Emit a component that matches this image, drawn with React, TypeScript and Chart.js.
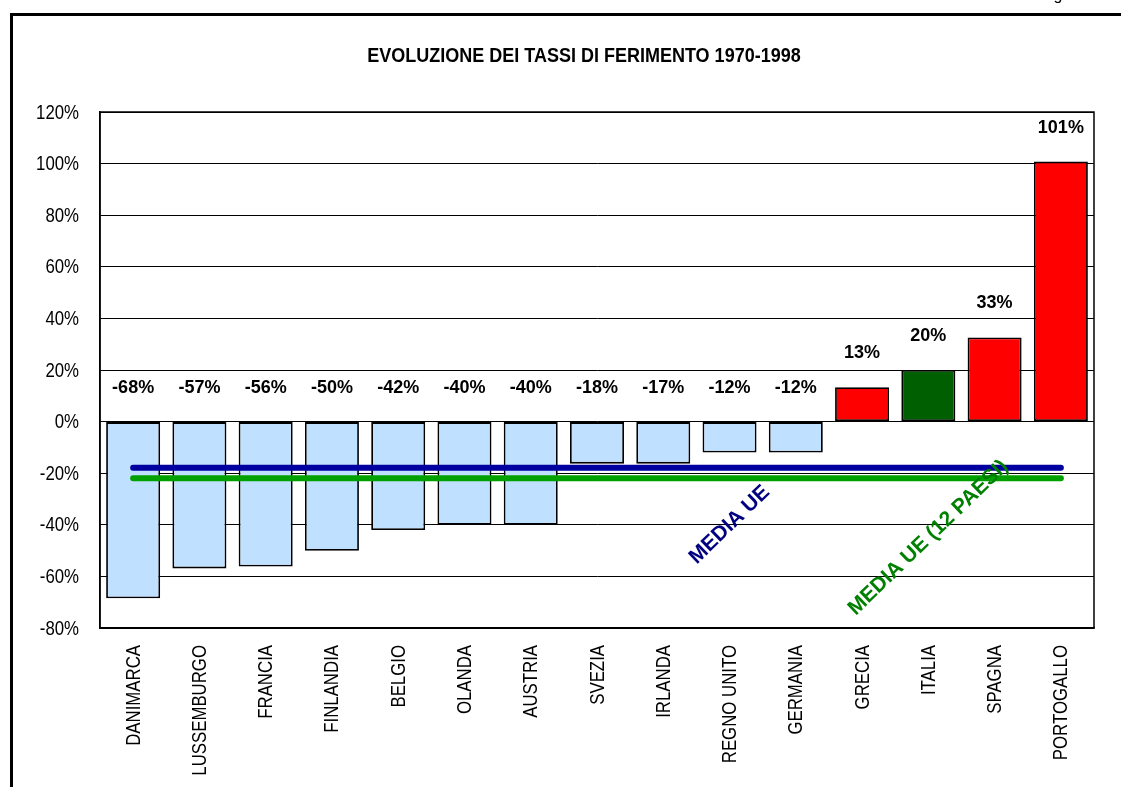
import React, { useEffect, useRef } from "react";
import { Chart, registerables } from "chart.js";

Chart.register(...registerables);

const TITLE = "EVOLUZIONE DEI TASSI DI FERIMENTO 1970-1998";
const categories = [
  "DANIMARCA", "LUSSEMBURGO", "FRANCIA", "FINLANDIA", "BELGIO", "OLANDA", "AUSTRIA",
  "SVEZIA", "IRLANDA", "REGNO UNITO", "GERMANIA", "GRECIA", "ITALIA", "SPAGNA", "PORTOGALLO",
];
const values = [-68.5, -56.9, -56.2, -50.1, -42, -40, -40, -16.3, -16.3, -12, -12, 13.3, 20, 32.6, 100.8];
const valueLabels = ["-68%", "-57%", "-56%", "-50%", "-42%", "-40%", "-40%", "-18%", "-17%", "-12%", "-12%", "13%", "20%", "33%", "101%"];
const barColors = [
  "#C0E0FF", "#C0E0FF", "#C0E0FF", "#C0E0FF", "#C0E0FF", "#C0E0FF", "#C0E0FF",
  "#C0E0FF", "#C0E0FF", "#C0E0FF", "#C0E0FF", "#FF0000", "#005F00", "#FF0000", "#FF0000",
];
const MEDIA_UE = -17.9;
const MEDIA_UE_12 = -22.0;
const yTicks = { min: -80, max: 120, step: 20 };

const SANS = "'Liberation Sans', Arial, sans-serif";
const NARROW_SCALE = 0.84;

const decor = {
  id: "decor",
  beforeDraw(chart: any) {
    const ctx = chart.ctx;
    ctx.save();
    ctx.fillStyle = "#ffffff";
    ctx.fillRect(0, 0, chart.width, chart.height);
    ctx.fillStyle = "#000000";
    ctx.fillRect(10, 13, chart.width, 3);
    ctx.fillRect(10, 13, 3, chart.height);
    ctx.font = `16px ${SANS}`;
    ctx.textAlign = "center";
    ctx.textBaseline = "alphabetic";
    ctx.fillText("g", 1058, 0);
    ctx.save();
    ctx.translate(584, 62);
    ctx.scale(0.857, 1);
    ctx.font = `bold 21px ${SANS}`;
    ctx.fillText(TITLE, 0, 0);
    ctx.restore();
    ctx.restore();
  },
  afterDatasetsDraw(chart: any) {
    const ctx = chart.ctx;
    const xs = chart.scales.x;
    const ys = chart.scales.y;
    const a = chart.chartArea;
    ctx.save();
    ctx.strokeStyle = "#000";
    ctx.lineWidth = 1.5;
    ctx.strokeRect(a.left, a.top, a.right - a.left, a.bottom - a.top);
    ctx.fillStyle = "#000";

    // y tick labels (narrow)
    ys.ticks.forEach((t: any) => {
      const y = ys.getPixelForValue(t.value);
      ctx.save();
      ctx.translate(a.left - 21, y + 1);
      ctx.scale(NARROW_SCALE, 1);
      ctx.font = `20px ${SANS}`;
      ctx.textAlign = "right";
      ctx.textBaseline = "middle";
      ctx.fillText(`${t.value}%`, 0, 0);
      ctx.restore();
    });

    // x tick labels (vertical, narrow)
    categories.forEach((c, i) => {
      const x = xs.getPixelForValue(i);
      ctx.save();
      ctx.translate(x + 1, a.bottom + 17);
      ctx.rotate(-Math.PI / 2);
      ctx.scale(NARROW_SCALE, 1);
      ctx.font = `20px ${SANS}`;
      ctx.textAlign = "right";
      ctx.textBaseline = "middle";
      ctx.fillText(c, 0, 0);
      ctx.restore();
    });

    ctx.font = `bold 18px ${SANS}`;
    ctx.textAlign = "center";
    ctx.textBaseline = "alphabetic";
    values.forEach((v, i) => {
      const x = xs.getPixelForValue(i);
      const y = ys.getPixelForValue(Math.max(v, 0)) - 29;
      ctx.fillText(valueLabels[i], x, y);
    });
    const drawRot = (text: string, idx: number, val: number, color: string) => {
      ctx.save();
      ctx.translate(xs.getPixelForValue(idx), ys.getPixelForValue(val));
      ctx.rotate((-44 * Math.PI) / 180);
      ctx.fillStyle = color;
      ctx.font = `bold 21px ${SANS}`;
      ctx.textAlign = "center";
      ctx.textBaseline = "middle";
      ctx.fillText(text, 0, 0);
      ctx.restore();
    };
    drawRot("MEDIA UE", 9, -40, "#000080");
    drawRot("MEDIA UE (12 PAESI)", 12, -45, "#008000");
    ctx.restore();
  },
};

export default function App() {
  const ref = useRef<HTMLCanvasElement | null>(null);
  useEffect(() => {
    document.body.style.margin = "0";
    const chart = new Chart(ref.current!, {
      type: "bar",
      data: {
        labels: categories,
        datasets: [
          {
            type: "line",
            data: [
              { x: categories[0], y: MEDIA_UE },
              { x: categories[categories.length - 1], y: MEDIA_UE },
            ],
            borderColor: "#0000A0",
            borderWidth: 6,
            borderCapStyle: "round",
            pointRadius: 0,
            order: 1,
          } as any,
          {
            type: "line",
            data: [
              { x: categories[0], y: MEDIA_UE_12 },
              { x: categories[categories.length - 1], y: MEDIA_UE_12 },
            ],
            borderColor: "#00A000",
            borderWidth: 6,
            borderCapStyle: "round",
            pointRadius: 0,
            order: 1,
          } as any,
          {
            type: "bar",
            data: values,
            backgroundColor: barColors,
            borderColor: "#000000",
            borderWidth: 1.8,
            borderSkipped: false,
            barPercentage: 0.815,
            categoryPercentage: 1,
            order: 2,
          } as any,
        ],
      },
      options: {
        responsive: false,
        animation: false,
        layout: { padding: { top: 112, right: 27, left: 0, bottom: 0 } },
        plugins: { legend: { display: false }, tooltip: { enabled: false }, title: { display: false } },
        scales: {
          x: {
            grid: { display: false, drawTicks: false },
            border: { display: true, color: "#000", width: 1.5 },
            ticks: { display: false, autoSkip: false },
            afterFit: (s: any) => {
              s.height = 159;
            },
          },
          y: {
            min: yTicks.min,
            max: yTicks.max,
            grid: { color: "#000", lineWidth: 1, drawTicks: false },
            border: { display: true, color: "#000", width: 1.5 },
            ticks: { display: false, stepSize: yTicks.step },
            afterFit: (s: any) => {
              s.width = 100;
            },
          },
        },
      },
      plugins: [decor],
    });
    return () => chart.destroy();
  }, []);
  return (
    <div style={{ width: 1121, height: 787 }}>
      <canvas ref={ref} width={1121} height={787} style={{ display: "block" }} />
    </div>
  );
}
